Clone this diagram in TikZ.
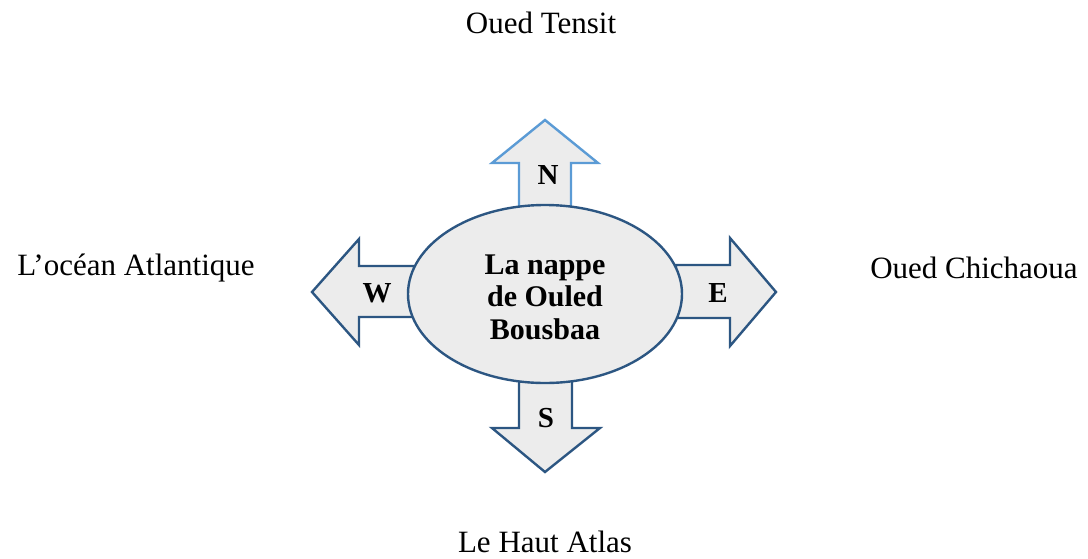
\documentclass[tikz,border=0pt]{standalone}
\usepackage{fontspec}
\setmainfont{Liberation Serif}
\begin{document}
\begin{tikzpicture}[x=1pt,y=-1pt,
  darkline/.style={draw={rgb,255:red,44;green,86;blue,130}, line width=2.4pt, fill={rgb,255:red,236;green,236;blue,236}, line join=miter},
  lightline/.style={draw={rgb,255:red,91;green,155;blue,213}, line width=2.4pt, fill={rgb,255:red,236;green,236;blue,236}, line join=miter},
  place/.style={font=\fontsize{31}{36}\selectfont, inner sep=0pt},
  dirtext/.style={font=\fontsize{29}{32}\selectfont\bfseries, inner sep=0pt},
  centertext/.style={font=\fontsize{30}{32.5}\selectfont\bfseries, align=center, inner sep=0pt}]
\useasboundingbox (0,0) rectangle (1088,558);

% direction arrows, drawn first so the ellipse covers their inner ends
\draw[lightline] (519,210) -- (519,163) -- (492,163) -- (545,120) -- (598,163) -- (571,163) -- (571,210) -- cycle;
\draw[darkline] (519,378) -- (519,428) -- (492,428) -- (545,472) -- (600,428) -- (572,428) -- (572,378) -- cycle;
\draw[darkline] (414,266) -- (359,266) -- (359,239) -- (312,292) -- (359,345) -- (359,317) -- (414,317) -- cycle;
\draw[darkline] (676,265) -- (730,265) -- (730,238) -- (776,292) -- (730,346) -- (730,318) -- (676,318) -- cycle;

% aquifer
\draw[darkline] (545,294) ellipse [x radius=137, y radius=89];
\node[centertext] (nappe) at (545,297) {La nappe\\de Ouled\\Bousbaa};

% direction letters
\node[dirtext] (n) at (548,175) {N};
\node[dirtext] (s) at (546,418) {S};
\node[dirtext] (w) at (377,293) {W};
\node[dirtext] (e) at (718,293) {E};

% boundaries
\node[place] (north) at (541,23) {Oued Tensit};
\node[place] (south) at (545,542) {Le Haut Atlas};
\node[place] (west) at (136,268) {L’océan Atlantique};
\node[place] (east) at (974,268) {Oued Chichaoua};
\end{tikzpicture}
\end{document}
